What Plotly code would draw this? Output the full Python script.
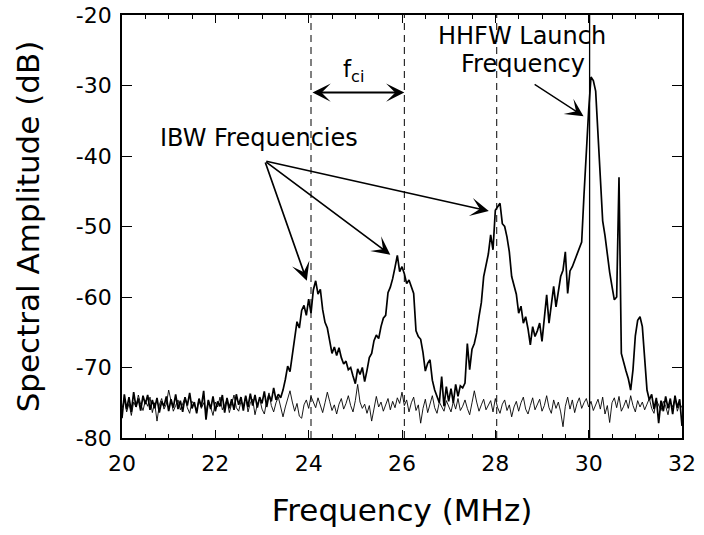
import plotly.graph_objects as go

# spectrum with IBW peaks (dB), sampled every 0.05 MHz from 20 to 32 MHz
main_db = [
    -77.2, -73.8, -75.9, -74.2, -76.3, -73.5, -75.6, -74.4, -76.1, -74.0, -75.2, -73.9, -76.0, -74.6, -75.8, -74.3, -76.4, -74.8, -75.5, -74.1,
    -76.2, -74.5, -75.7, -73.8, -75.9, -74.7, -76.3, -74.2, -75.4, -73.6, -75.8, -74.9, -76.5, -74.4, -75.6, -73.3, -77.4, -74.6, -75.9, -74.1,
    -76.2, -74.8, -75.5, -73.9, -76.4, -74.3, -75.8, -74.5, -76.0, -73.8, -75.3, -74.2, -76.1, -74.0, -75.6, -73.7, -75.4, -73.9, -75.7, -74.2,
    -75.1, -73.4, -75.6, -73.9, -74.8, -72.9, -74.6, -73.8, -74.3, -73.2, -71.7, -69.8, -70.6, -68.4, -65.8, -63.5, -64.4, -61.9, -61.2, -62.6,
    -60.3, -62.3, -59.0, -57.7, -59.6, -58.9, -61.8, -63.6, -64.4, -66.2, -68.0, -67.1, -68.3, -67.2, -68.6, -69.5, -69.1, -70.3, -70.0, -71.2,
    -72.3, -70.2, -71.0, -70.0, -72.0, -70.4, -68.6, -68.0, -66.2, -65.4, -65.9, -64.2, -63.0, -62.6, -59.4, -58.6, -57.4, -55.8, -54.1, -56.4,
    -55.7, -56.7, -58.1, -57.6, -58.7, -59.5, -64.8, -65.6, -66.0, -67.9, -70.5, -69.4, -68.9, -71.8, -73.2, -74.0, -75.0, -71.3, -75.5, -72.7,
    -74.8, -73.0, -75.0, -72.4, -74.1, -72.6, -72.9, -72.2, -66.6, -70.3, -67.4, -66.6, -65.1, -62.8, -60.8, -57.1, -55.6, -53.9, -51.2, -53.3,
    -47.7, -47.2, -46.7, -49.6, -50.0, -51.5, -53.6, -57.1, -58.4, -59.6, -62.3, -61.3, -63.7, -62.8, -64.5, -66.8, -64.2, -65.6, -64.8, -63.7,
    -66.3, -62.4, -59.7, -63.7, -60.8, -58.5, -61.4, -59.5, -57.1, -56.2, -53.6, -59.5, -56.3, -55.7, -54.8, -54.0, -52.8, -52.2, -45.5, -38.8,
    -33.5, -28.8, -29.3, -30.8, -36.5, -42.4, -49.2, -51.3, -54.3, -56.5, -58.5, -60.4, -60.0, -43.0, -68.0, -69.4, -70.5, -71.6, -73.2, -70.3,
    -65.5, -63.3, -62.8, -64.2, -69.5, -73.2, -74.6, -73.8, -75.9, -74.3, -77.9, -74.7, -76.2, -74.1, -75.8, -74.4, -76.6, -74.0, -75.7, -74.5,
    -78.3,
]

# background (no IBW) spectrum, same sampling
base_db = [
    -75.8, -74.6, -76.3, -75.1, -76.8, -74.9, -75.6, -73.9, -75.2, -76.1, -74.7, -75.5, -74.2, -76.4, -75.0, -77.6, -75.3, -74.4, -75.9, -75.2,
    -73.2, -74.9, -76.2, -75.4, -74.6, -76.0, -75.1, -74.3, -75.7, -76.5, -74.8, -75.3, -76.1, -74.5, -75.8, -75.0, -76.3, -74.7, -75.6, -76.8,
    -74.9, -75.6, -74.2, -76.0, -75.3, -74.6, -76.4, -75.1, -73.9, -75.7, -76.2, -74.8, -75.5, -74.1, -76.3, -75.0, -74.5, -76.7, -75.2, -74.4,
    -75.9, -76.6, -74.8, -73.6, -75.4, -76.3, -75.0, -74.2, -75.8, -77.0, -75.6, -74.5, -73.3, -74.9, -76.2, -75.1, -76.9, -77.2, -75.3, -74.6,
    -75.8, -74.1, -74.9, -75.7, -74.3, -75.5, -76.4, -75.0, -73.5, -74.8, -76.1, -75.3, -76.6, -75.2, -74.4, -75.9, -75.1, -74.0, -75.4, -76.3,
    -74.7, -72.4, -74.9, -75.8, -75.2, -76.5, -75.4, -77.6, -76.0, -74.1, -75.6, -74.9, -76.2, -75.3, -74.4, -76.0, -74.8, -75.7, -74.3, -75.1,
    -73.5, -75.4, -74.6, -76.3, -75.0, -74.2, -76.1, -75.3, -77.9, -75.8, -74.5, -76.4, -75.2, -74.0, -75.7, -76.5, -74.9, -75.6, -76.2, -74.7,
    -75.4, -76.3, -74.8, -75.9, -74.4, -76.1, -75.5, -74.6, -75.8, -76.7, -75.0, -73.3, -74.9, -76.2, -75.3, -74.5, -76.0, -75.4, -74.7, -76.3,
    -74.4, -75.7, -76.5, -75.2, -74.6, -76.1, -75.3, -77.0, -75.6, -74.8, -76.2, -75.0, -74.2, -75.9, -76.6, -75.4, -74.3, -76.0, -75.1, -74.5,
    -76.2, -75.4, -74.0, -75.7, -76.5, -74.6, -75.8, -74.9, -76.3, -78.4, -75.5, -74.2, -75.9, -74.6, -76.4, -75.1, -74.3, -75.8, -75.0, -74.4,
    -75.6, -74.8, -76.1, -75.3, -74.5, -75.9, -74.2, -76.6, -75.4, -77.8, -75.0, -74.3, -75.7, -74.1, -76.2, -75.5, -74.6, -75.8, -74.0, -75.4,
    -76.3, -74.7, -75.6, -74.9, -76.0, -75.2, -74.4, -75.8, -76.5, -74.6, -75.3, -76.1, -74.8, -75.5, -76.7, -74.9, -75.6, -74.3, -76.2, -75.1,
    -75.7,
]

freq = [round(20 + 0.05 * i, 2) for i in range(len(main_db))]

x_ticks = [20, 22, 24, 26, 28, 30, 32]
y_ticks = [-80, -70, -60, -50, -40, -30, -20]
y_ticktext = ["-80", "-70", "-60", "-50", "-40", "-30", "-20"]

ibw_lines = [24.05, 26.05, 28.03]   # dashed markers (MHz)
launch_freq = 30.02                 # HHFW launch (MHz)

# arrows: tips and the common tail point
ibw_tail = (23.06, -40.7)
ibw_tips = [(23.96, -57.7), (25.75, -54.0), (27.86, -47.8)]
hhfw_tail, hhfw_tip = (28.81, -29.7), (29.89, -34.35)
fci_y = -31.0

FONT = "DejaVu Sans"

fig = go.Figure()
fig.add_trace(go.Scatter(x=freq, y=base_db, mode="lines", line=dict(color="black", width=0.9), showlegend=False))
fig.add_trace(go.Scatter(x=freq, y=main_db, mode="lines", line=dict(color="black", width=1.7), showlegend=False))

for f in ibw_lines:
    fig.add_vline(x=f, line_dash="7px,5px", line_color="black", line_width=1)
fig.add_vline(x=launch_freq, line_color="black", line_width=1.3)

arrow = dict(showarrow=True, text="", axref="x", ayref="y", arrowcolor="black", arrowhead=3, standoff=0)
for tx, ty in ibw_tips:
    fig.add_annotation(x=tx, y=ty, ax=ibw_tail[0], ay=ibw_tail[1], arrowwidth=1.7, arrowsize=1.8, **arrow)
fig.add_annotation(x=hhfw_tip[0], y=hhfw_tip[1], ax=hhfw_tail[0], ay=hhfw_tail[1], arrowwidth=1.3, arrowsize=2.3, **arrow)
fig.add_annotation(x=ibw_lines[1], y=fci_y, ax=ibw_lines[0], ay=fci_y, arrowside="end+start", arrowwidth=1.9, arrowsize=1.6, **arrow)

txt = dict(showarrow=False, xanchor="center", yanchor="middle", font=dict(family=FONT, size=24, color="black"))
fig.add_annotation(x=22.94, y=-37.5, text="IBW Frequencies", **txt)
fig.add_annotation(x=28.58, y=-23.0, text="HHFW Launch", **txt)
fig.add_annotation(x=28.6, y=-26.9, text="Frequency", **txt)
fig.add_annotation(x=24.96, y=-28.0, text="f<sub>ci</sub>", showarrow=False, xanchor="center", yanchor="middle",
                   font=dict(family=FONT, size=23, color="black"))

axis = dict(showline=True, linecolor="black", linewidth=1.6, mirror="allticks", ticks="inside", tickcolor="black",
            showgrid=False, zeroline=False, automargin=False, tickfont=dict(family=FONT, size=22, color="black"))
fig.update_layout(
    width=704, height=535, paper_bgcolor="white", plot_bgcolor="white",
    margin=dict(l=122, r=22, t=15, b=97),
    font=dict(family=FONT, color="black"),
    xaxis=dict(axis, range=[20, 32], tickvals=x_ticks, ticklen=8, tickwidth=1.3, ticklabelstandoff=5,
               minor=dict(dtick=0.5, tick0=20, ticklen=4, ticks="inside", tickcolor="black", tickwidth=1),
               title=dict(text="Frequency (MHz)", font=dict(family=FONT, size=31), standoff=24)),
    yaxis=dict(axis, range=[-80, -20], tickvals=y_ticks, ticktext=y_ticktext, ticklen=10, tickwidth=1.3,
               ticklabelstandoff=4,
               title=dict(text="Spectral Amplitude (dB)", font=dict(family=FONT, size=31), standoff=27)),
)

# page body has a default 8px margin; drop it so the figure sits at the window origin
fig.write_html("out.html", config={"displayModeBar": False},
               post_script="document.body.style.margin='0';")
